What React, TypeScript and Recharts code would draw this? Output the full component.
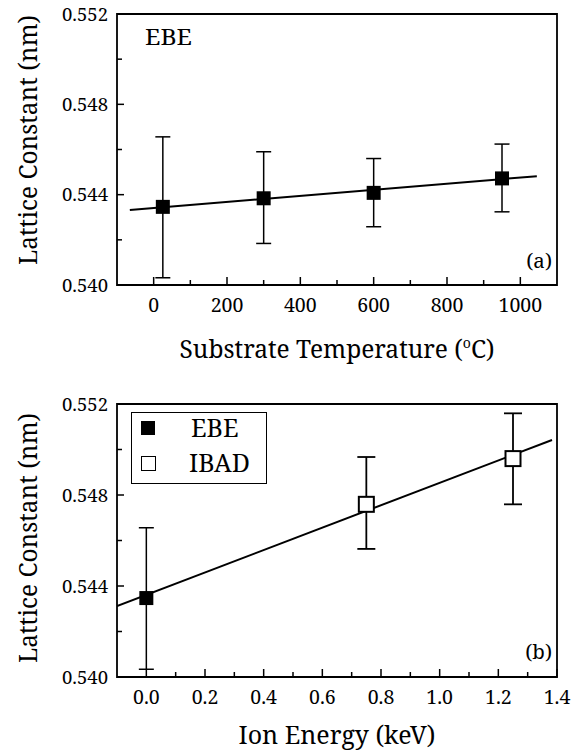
import React from 'react';
import { ScatterChart, Scatter, XAxis, YAxis, ErrorBar, ReferenceArea, Label, Legend } from 'recharts';

const FONT = "'Noto Serif', 'DejaVu Serif', serif";

// ---- Panel (a): lattice constant vs substrate temperature (EBE)
const tempX = [25, 300, 600, 950];
const tempLattice = [0.54346, 0.54384, 0.54408, 0.54472];
const tempLow = [0.54032, 0.54184, 0.54258, 0.54324];
const tempHigh = [0.54656, 0.5459, 0.5456, 0.54624];
const tempFitX = [-65, 1045];
const tempFitY = [0.54332, 0.54482];
const tempTicks = [0, 100, 200, 300, 400, 500, 600, 700, 800, 900, 1000];
const tempDomain = [-100, 1100];

// ---- Panel (b): lattice constant vs ion energy
const ebeEnergy = [0];
const ebeLattice = [0.54347];
const ebeLow = [0.54034];
const ebeHigh = [0.54656];
const ibadEnergy = [0.75, 1.25];
const ibadLattice = [0.54759, 0.5496];
const ibadLow = [0.54563, 0.54759];
const ibadHigh = [0.54967, 0.55159];
const energyFitX = [-0.1, 1.383];
const energyFitY = [0.54312, 0.55042];
const energyTicks = [0, 0.1, 0.2, 0.3, 0.4, 0.5, 0.6, 0.7, 0.8, 0.9, 1.0, 1.1, 1.2, 1.3, 1.4];
const energyDomain = [-0.1, 1.4];

const latticeTicks = [0.54, 0.542, 0.544, 0.546, 0.548, 0.55, 0.552];
const latticeDomain = [0.54, 0.552];

const makePoints = (xs: number[], ys: number[], lows: number[], highs: number[]) =>
  xs.map((x, i) => ({ x, y: ys[i], err: [ys[i] - lows[i], highs[i] - ys[i]] }));
const makeLine = (xs: number[], ys: number[]) => xs.map((x, i) => ({ x, y: ys[i] }));

const tempPoints = makePoints(tempX, tempLattice, tempLow, tempHigh);
const tempFit = makeLine(tempFitX, tempFitY);
const ebePoints = makePoints(ebeEnergy, ebeLattice, ebeLow, ebeHigh);
const ibadPoints = makePoints(ibadEnergy, ibadLattice, ibadLow, ibadHigh);
const energyFit = makeLine(energyFitX, energyFitY);

const ts = { fontFamily: FONT };

const YTick = (props: any) => {
  const { x, y, payload } = props;
  const v = payload.value as number;
  const major = Math.round(v * 1000) % 4 === 0;
  return (
    <g>
      <line x1={x} x2={x + (major ? 7 : 5)} y1={y} y2={y} stroke="#000" strokeWidth={1.5} />
      {major && (
        <text x={x - 9} y={y} dy={6.5} textAnchor="end" style={ts} fontSize={18.5} fill="#000" textLength={46} lengthAdjust="spacingAndGlyphs">
          {v.toFixed(3)}
        </text>
      )}
    </g>
  );
};

const makeXTick = (isMajor: (v: number) => boolean, fmt: (v: number) => string) => (props: any) => {
  const { x, y, payload } = props;
  const v = payload.value as number;
  const major = isMajor(v);
  return (
    <g>
      <line x1={x} x2={x} y1={y} y2={y - (major ? 8 : 5)} stroke="#000" strokeWidth={1.5} />
      {major && (
        <text x={x} y={y + 27} textAnchor="middle" style={ts} fontSize={19.5} fill="#000">
          {fmt(v)}
        </text>
      )}
    </g>
  );
};

const TempTick = makeXTick((v) => Math.round(v) % 200 === 0, (v) => String(v));
const EnergyTick = makeXTick((v) => Math.round(v * 10) % 2 === 0, (v) => v.toFixed(1));

const FilledSquare = (props: any) => {
  const { cx, cy } = props;
  return <rect x={cx - 7} y={cy - 7} width={14} height={14} fill="#000" />;
};
const OpenSquare = (props: any) => {
  const { cx, cy } = props;
  return <rect x={cx - 7.5} y={cy - 7.5} width={15} height={15} fill="#fff" stroke="#000" strokeWidth={2} />;
};
const NoShape = () => <g />;

const yTitle = (shift: number) => (props: any) => {
  const vb = props.viewBox;
  const cx = 37;
  const cy = vb.y + vb.height / 2 + shift;
  return (
    <text
      x={cx}
      y={cy}
      transform={`rotate(-90, ${cx}, ${cy})`}
      textAnchor="middle"
      style={ts}
      fontSize={26}
      fill="#000"
      textLength={250}
      lengthAdjust="spacingAndGlyphs"
    >
      Lattice Constant (nm)
    </text>
  );
};

const tempTitle = (props: any) => {
  const vb = props.viewBox;
  return (
    <text x={vb.x + vb.width / 2} y={vb.y + 73} textAnchor="middle" style={ts} fontSize={24.5} fill="#000">
      <tspan>Substrate Temperature (</tspan>
      <tspan fontSize={14} dy={-10}>o</tspan>
      <tspan dy={10}>C)</tspan>
    </text>
  );
};

const energyTitle = (props: any) => {
  const vb = props.viewBox;
  return (
    <text
      x={vb.x + vb.width / 2}
      y={vb.y + 67}
      textAnchor="middle"
      style={ts}
      fontSize={26}
      fill="#000"
      textLength={197}
      lengthAdjust="spacingAndGlyphs"
    >
      Ion Energy (keV)
    </text>
  );
};

const panelTag = (tag: string, up: number) => (props: any) => {
  const vb = props.viewBox;
  return (
    <text x={vb.x + vb.width - 5} y={vb.y + vb.height - up} textAnchor="end" style={ts} fontSize={20.5} fill="#000">
      {tag}
    </text>
  );
};

const ebeTag = (props: any) => {
  const vb = props.viewBox;
  return (
    <text x={vb.x + 28} y={vb.y + 31} style={ts} fontSize={22} fill="#000" textLength={47} lengthAdjust="spacingAndGlyphs">
      EBE
    </text>
  );
};

const LegendBox = (props: any) => {
  const items = (props.payload || []).filter((p: any) => p.type !== 'none');
  return (
    <div
      style={{
        position: 'relative',
        width: 136,
        height: 72,
        border: '1.5px solid #000',
        boxSizing: 'border-box',
        background: '#fff',
        fontFamily: FONT,
        fontSize: 25,
        lineHeight: '27px',
        color: '#000',
      }}
    >
      {items.map((it: any, i: number) => (
        <React.Fragment key={it.value}>
          <div
            style={{
              position: 'absolute',
              left: 9,
              top: 8 + i * 35,
              width: i === 0 ? 14 : 15,
              height: i === 0 ? 14 : 15,
              background: i === 0 ? '#000' : '#fff',
              border: i === 0 ? 'none' : '1.5px solid #000',
              boxSizing: 'border-box',
            }}
          />
          <span style={{ position: 'absolute', left: i === 0 ? 59 : 57, top: 1 + i * 35, whiteSpace: 'nowrap' }}>
            {it.value}
          </span>
        </React.Fragment>
      ))}
    </div>
  );
};

export default function App() {
  return (
    <div style={{ position: 'absolute', left: 0, top: 0, width: 577, height: 753, background: '#fff' }}>
      <div style={{ position: 'absolute', left: 0, top: 0 }}>
        <ScatterChart width={577} height={380} margin={{ top: 14, right: 20, bottom: 0, left: 0 }}>
          <XAxis type="number" dataKey="x" domain={tempDomain} ticks={tempTicks} interval={0} axisLine={false} tickLine={false} tickSize={0} tickMargin={0} tick={<TempTick />} height={95} allowDataOverflow>
            <Label content={tempTitle} />
          </XAxis>
          <YAxis type="number" dataKey="y" domain={latticeDomain} ticks={latticeTicks} interval={0} axisLine={false} tickLine={false} tickSize={0} tickMargin={0} tick={<YTick />} width={117} allowDataOverflow>
            <Label content={yTitle(-9.5)} />
          </YAxis>
          <ReferenceArea x1={tempDomain[0]} x2={tempDomain[1]} y1={latticeDomain[0]} y2={latticeDomain[1]} fill="none" stroke="#000" strokeWidth={1.8} ifOverflow="visible">
            <Label content={ebeTag} />
            <Label content={panelTag('(a)', 17)} />
          </ReferenceArea>
          <Scatter name="fit" data={tempFit} line={{ stroke: '#000', strokeWidth: 2 }} shape={<NoShape />} legendType="none" isAnimationActive={false} />
          <Scatter name="EBE" data={tempPoints} shape={<FilledSquare />} fill="#000" isAnimationActive={false}>
            <ErrorBar dataKey="err" direction="y" width={7.5} stroke="#000" strokeWidth={1.5} isAnimationActive={false} />
          </Scatter>
        </ScatterChart>
      </div>
      <div style={{ position: 'absolute', left: 0, top: 380 }}>
        <ScatterChart width={577} height={373} margin={{ top: 24, right: 20, bottom: 0, left: 0 }}>
          <XAxis type="number" dataKey="x" domain={energyDomain} ticks={energyTicks} interval={0} axisLine={false} tickLine={false} tickSize={0} tickMargin={0} tick={<EnergyTick />} height={76} allowDataOverflow>
            <Label content={energyTitle} />
          </XAxis>
          <YAxis type="number" dataKey="y" domain={latticeDomain} ticks={latticeTicks} interval={0} axisLine={false} tickLine={false} tickSize={0} tickMargin={0} tick={<YTick />} width={117} allowDataOverflow>
            <Label content={yTitle(-2.5)} />
          </YAxis>
          <ReferenceArea x1={energyDomain[0]} x2={energyDomain[1]} y1={latticeDomain[0]} y2={latticeDomain[1]} fill="none" stroke="#000" strokeWidth={1.8} ifOverflow="visible">
            <Label content={panelTag('(b)', 18.5)} />
          </ReferenceArea>
          <Legend layout="horizontal" verticalAlign="middle" align="center" width={136} height={72} wrapperStyle={{ left: 131, top: 32, width: 136, height: 72 }} content={<LegendBox />} />
          <Scatter name="fit" data={energyFit} line={{ stroke: '#000', strokeWidth: 2 }} shape={<NoShape />} legendType="none" isAnimationActive={false} />
          <Scatter name="EBE" data={ebePoints} shape={<FilledSquare />} fill="#000" isAnimationActive={false}>
            <ErrorBar dataKey="err" direction="y" width={7.5} stroke="#000" strokeWidth={1.5} isAnimationActive={false} />
          </Scatter>
          <Scatter name="IBAD" data={ibadPoints} shape={<OpenSquare />} fill="#fff" stroke="#000" isAnimationActive={false}>
            <ErrorBar dataKey="err" direction="y" width={9} stroke="#000" strokeWidth={1.8} isAnimationActive={false} />
          </Scatter>
        </ScatterChart>
      </div>
    </div>
  );
}
